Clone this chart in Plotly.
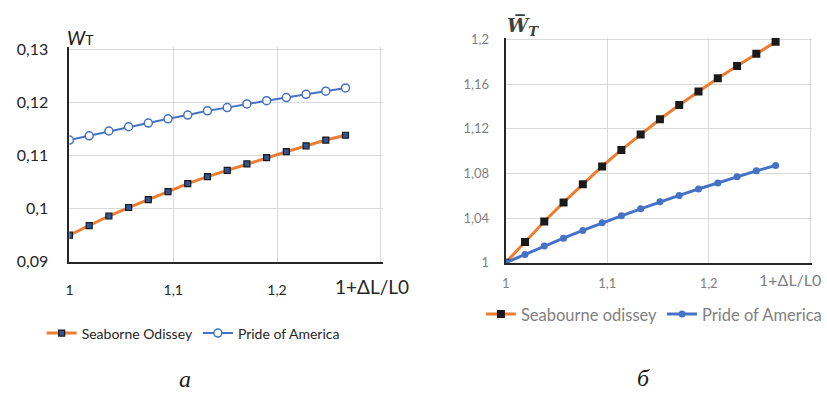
import plotly.graph_objects as go

W, H = 827, 399

# relative hull stretch 1 + dL/L0
stretch = [1.000, 1.019, 1.038, 1.057, 1.076, 1.095, 1.114, 1.133,
           1.152, 1.171, 1.190, 1.209, 1.228, 1.247, 1.266]

# wave-making coefficient W_T
seaborne_wt = [0.0950, 0.0968, 0.0986, 0.1002, 0.1017, 0.1032, 0.1047, 0.1060,
               0.1072, 0.1084, 0.1096, 0.1107, 0.1118, 0.1129, 0.1138]
pride_wt = [0.1129, 0.1137, 0.1146, 0.1154, 0.1161, 0.1169, 0.1176, 0.1184,
            0.1190, 0.1197, 0.1203, 0.1209, 0.1215, 0.1221, 0.1227]

# relative coefficient W_T / W_T(1)
seabourne_rel = [1.000, 1.0186, 1.0369, 1.0540, 1.0703, 1.0863, 1.1011, 1.1149,
                 1.1286, 1.1414, 1.1534, 1.1654, 1.1763, 1.1874, 1.1980]
pride_rel = [1.000, 1.0074, 1.0149, 1.0220, 1.0289, 1.0357, 1.0420, 1.0483,
             1.0546, 1.0603, 1.0660, 1.0714, 1.0771, 1.0823, 1.0871]

x_ticks = [1.0, 1.1, 1.2]
x_tick_text = ["1", "1,1", "1,2"]
x_grid_end = [1.3]
x_title = "1+ΔL/L0"
wt_ticks = [0.09, 0.10, 0.11, 0.12, 0.13]
wt_tick_text = ["0,09", "0,1", "0,11", "0,12", "0,13"]
rel_ticks = [1.0, 1.04, 1.08, 1.12, 1.16, 1.2]
rel_tick_text = ["1", "1,04", "1,08", "1,12", "1,16", "1,2"]

ORANGE = "#ED7D31"
BLUE = "#4472C4"
FONT = "Lato"
GRID = "#d9d9d9"
AXIS_LINE = "#262626"

# plot areas in pixels: left, right, top, bottom
LEFT_BOX = (66, 380, 43, 265)
RIGHT_BOX = (506, 813, 33, 266)
EDGE = 2  # room so the outermost grid lines stay inside the plot area


def px(x):
    return x / W


def py(y):
    return 1 - y / H


def padded(box, x_lo, x_hi, y_lo, y_hi):
    """Domains and ranges with a small margin beyond the last grid line."""
    l, r, t, b = box
    x_span = (x_hi - x_lo) / (r - l)
    y_span = (y_hi - y_lo) / (b - t)
    return dict(
        xdomain=[px(l), px(r + EDGE)], xrange=[x_lo, x_hi + EDGE * x_span],
        ydomain=[py(b), py(t - EDGE)], yrange=[y_lo, y_hi + EDGE * y_span])


left = padded(LEFT_BOX, 1.0, 1.3, 0.09, 0.13)
right = padded(RIGHT_BOX, 1.0, 1.3, 1.0, 1.2)

fig = go.Figure()

# left panel
fig.add_trace(go.Scatter(
    x=stretch, y=seaborne_wt, name="Seaborne Odissey", mode="lines+markers",
    line=dict(color=ORANGE, width=3),
    marker=dict(symbol="square", size=6, color="#2F5597",
                line=dict(color="#1a1a1a", width=1.2)),
    xaxis="x", yaxis="y", legend="legend"))
fig.add_trace(go.Scatter(
    x=stretch, y=pride_wt, name="Pride of America", mode="lines+markers",
    line=dict(color=BLUE, width=2),
    marker=dict(symbol="circle", size=8, color="white",
                line=dict(color=BLUE, width=1.5)),
    xaxis="x", yaxis="y", legend="legend"))

# right panel
fig.add_trace(go.Scatter(
    x=stretch, y=seabourne_rel, name="Seabourne odissey", mode="lines+markers",
    line=dict(color=ORANGE, width=3),
    marker=dict(symbol="square", size=8, color="#1a1a1a"),
    xaxis="x2", yaxis="y2", legend="legend2"))
fig.add_trace(go.Scatter(
    x=stretch, y=pride_rel, name="Pride of America", mode="lines+markers",
    line=dict(color=BLUE, width=3),
    marker=dict(symbol="circle", size=7, color=BLUE),
    xaxis="x2", yaxis="y2", legend="legend2"))


def axis(**kw):
    base = dict(showgrid=True, gridcolor=GRID, gridwidth=1,
                showline=True, linecolor=AXIS_LINE, linewidth=2,
                zeroline=False, ticks="")
    base.update(kw)
    return base


# unlabelled grid line closing the plot area on the right
end_grid = dict(tickvals=x_grid_end, showgrid=True, gridcolor=GRID,
                gridwidth=1, ticks="")

fig.update_layout(
    width=W, height=H,
    margin=dict(l=0, r=0, t=0, b=0),
    paper_bgcolor="white", plot_bgcolor="white",
    font=dict(family=FONT, color="#262626"),
    xaxis=axis(domain=left["xdomain"], range=left["xrange"], anchor="y",
               tickvals=x_ticks, ticktext=x_tick_text, ticklabelstandoff=14,
               minor=end_grid, tickfont=dict(size=14, color="#262626")),
    yaxis=axis(domain=left["ydomain"], range=left["yrange"], anchor="x",
               tickvals=wt_ticks, ticktext=wt_tick_text,
               ticklabelstandoff=16, tickfont=dict(size=16, color="#262626")),
    xaxis2=axis(domain=right["xdomain"], range=right["xrange"], anchor="y2",
                tickvals=x_ticks, ticktext=x_tick_text, ticklabelstandoff=8,
                minor=end_grid, tickfont=dict(size=13, color="#7f7f7f")),
    yaxis2=axis(domain=right["ydomain"], range=right["yrange"], anchor="x2",
                tickvals=rel_ticks, ticktext=rel_tick_text,
                ticklabelstandoff=12, tickfont=dict(size=13, color="#7f7f7f")),
    legend=dict(x=px(38), y=py(340), xanchor="left", yanchor="middle",
                orientation="h", itemwidth=30, bgcolor="rgba(0,0,0,0)",
                font=dict(size=14, color="#262626", family=FONT)),
    legend2=dict(x=px(481), y=py(320), xanchor="left", yanchor="middle",
                 orientation="h", itemwidth=30, bgcolor="rgba(0,0,0,0)",
                 font=dict(size=16.5, color="#7f7f7f", family=FONT)),
)

annotations = [
    # axis titles
    dict(text="<i>W</i><span style='font-size:14px'>T</span>",
         x=px(62), y=py(31), xanchor="left", yanchor="middle",
         font=dict(size=19, color="#1a1a1a", family=FONT)),
    dict(text=x_title, x=px(371), y=py(291), xanchor="center", yanchor="middle",
         font=dict(size=19, color="#262626", family=FONT)),
    dict(text="<b><i>W\u0305</i></b><sub><b><i>T</i></b></sub>",
         x=px(505), y=py(19), xanchor="left", yanchor="middle",
         font=dict(size=19, color="#404040", family="DejaVu Serif")),
    dict(text=x_title, x=px(793), y=py(284), xanchor="center", yanchor="middle",
         font=dict(size=16, color="#7f7f7f", family=FONT)),
    # panel letters
    dict(text="<i>а</i>", x=px(183), y=py(388), xanchor="center", yanchor="middle",
         font=dict(size=24, color="#1a1a1a", family="Liberation Serif")),
    dict(text="<i>б</i>", x=px(645), y=py(386), xanchor="center", yanchor="middle",
         font=dict(size=24, color="#1a1a1a", family="Liberation Serif")),
]
for a in annotations:
    a.update(xref="paper", yref="paper", showarrow=False)
fig.update_layout(annotations=annotations)

fig.write_html("out.html")
